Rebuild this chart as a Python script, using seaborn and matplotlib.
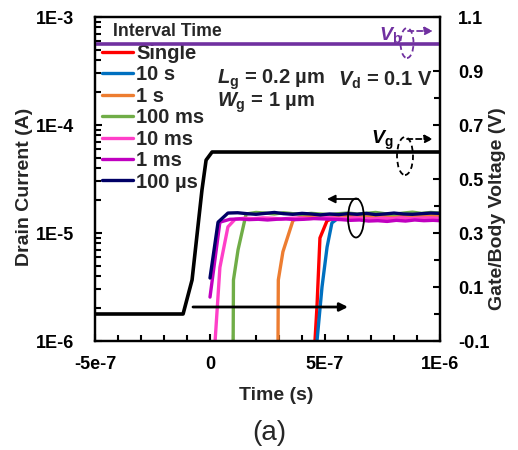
import numpy as np
import pandas as pd
import matplotlib
matplotlib.use("Agg")
import matplotlib.pyplot as plt
import seaborn as sns
from matplotlib.patches import Ellipse
from matplotlib.ticker import FixedLocator, FixedFormatter, MultipleLocator, LogLocator, NullFormatter

# ---------------- data ----------------
series_labels = ["Single", "10 s", "1 s", "100 ms", "10 ms", "1 ms", "100 µs"]
series_colors = ["#FF0000", "#0070C0", "#ED7D31", "#70AD47", "#FF3FC8", "#C000C0", "#000066"]

t_single = [4.48e-7, 4.65e-7, 4.78e-7, 5.09e-7, 5.5e-7, 5.9e-7, 6.3e-7, 6.7e-7, 7.1e-7, 7.5e-7,
            7.9e-7, 8.3e-7, 8.7e-7, 9.1e-7, 9.5e-7, 1.0e-6]
i_single = [5e-7, 2.06e-6, 9.0e-6, 1.30e-5, 1.40e-5, 1.42e-5, 1.40e-5, 1.43e-5, 1.41e-5, 1.38e-5,
            1.40e-5, 1.37e-5, 1.39e-5, 1.36e-5, 1.38e-5, 1.37e-5]

t_10s = [4.52e-7, 4.87e-7, 5.09e-7, 5.30e-7, 5.7e-7, 6.1e-7, 6.5e-7, 6.9e-7, 7.3e-7, 7.7e-7,
         8.1e-7, 8.5e-7, 8.9e-7, 9.3e-7, 9.7e-7, 1.0e-6]
i_10s = [5e-7, 3.16e-6, 7.4e-6, 1.24e-5, 1.44e-5, 1.46e-5, 1.43e-5, 1.45e-5, 1.47e-5, 1.44e-5,
         1.46e-5, 1.43e-5, 1.45e-5, 1.44e-5, 1.46e-5, 1.45e-5]

t_1s = [2.95e-7, 2.97e-7, 3.17e-7, 3.61e-7, 4.0e-7, 4.4e-7, 4.8e-7, 5.2e-7, 5.6e-7, 6.0e-7,
        6.4e-7, 6.8e-7, 7.2e-7, 7.6e-7, 8.0e-7, 8.4e-7, 8.8e-7, 9.2e-7, 9.6e-7, 1.0e-6]
i_1s = [5e-7, 3.67e-6, 6.7e-6, 1.31e-5, 1.42e-5, 1.44e-5, 1.41e-5, 1.43e-5, 1.45e-5, 1.42e-5,
        1.44e-5, 1.41e-5, 1.43e-5, 1.45e-5, 1.42e-5, 1.44e-5, 1.46e-5, 1.43e-5, 1.45e-5, 1.44e-5]

t_100ms = [1.0e-7, 1.02e-7, 1.22e-7, 1.57e-7, 2.0e-7, 2.4e-7, 2.8e-7, 3.2e-7, 3.6e-7, 4.0e-7,
           4.4e-7, 4.8e-7, 5.2e-7, 5.6e-7, 6.0e-7, 6.4e-7, 6.8e-7, 7.2e-7, 7.6e-7, 8.0e-7,
           8.4e-7, 8.8e-7, 9.2e-7, 9.6e-7, 1.0e-6]
i_100ms = [5e-7, 3.67e-6, 7.0e-6, 1.50e-5, 1.55e-5, 1.53e-5, 1.50e-5, 1.54e-5, 1.51e-5, 1.49e-5,
           1.52e-5, 1.50e-5, 1.48e-5, 1.51e-5, 1.53e-5, 1.50e-5, 1.52e-5, 1.55e-5, 1.51e-5, 1.49e-5,
           1.53e-5, 1.56e-5, 1.52e-5, 1.55e-5, 1.53e-5]

t_10ms = [1.3e-8, 4.3e-8, 7.8e-8, 1.09e-7, 1.5e-7, 1.9e-7, 2.3e-7, 2.7e-7, 3.1e-7, 3.5e-7,
          3.9e-7, 4.3e-7, 4.7e-7, 5.1e-7, 5.5e-7, 5.9e-7, 6.3e-7, 6.7e-7, 7.1e-7, 7.5e-7,
          7.9e-7, 8.3e-7, 8.7e-7, 9.1e-7, 9.5e-7, 1.0e-6]
i_10ms = [5e-7, 4.8e-6, 1.14e-5, 1.34e-5, 1.37e-5, 1.36e-5, 1.38e-5, 1.37e-5, 1.35e-5, 1.37e-5,
          1.38e-5, 1.36e-5, 1.37e-5, 1.39e-5, 1.37e-5, 1.36e-5, 1.38e-5, 1.36e-5, 1.35e-5, 1.37e-5,
          1.36e-5, 1.38e-5, 1.36e-5, 1.37e-5, 1.38e-5, 1.37e-5]

t_1ms = [0.0, 4.3e-8, 8.7e-8, 1.3e-7, 1.7e-7, 2.1e-7, 2.5e-7, 2.9e-7, 3.3e-7, 3.7e-7,
         4.1e-7, 4.5e-7, 4.9e-7, 5.3e-7, 5.7e-7, 6.1e-7, 6.5e-7, 6.9e-7, 7.3e-7, 7.7e-7,
         8.1e-7, 8.5e-7, 8.9e-7, 9.3e-7, 9.7e-7, 1.0e-6]
i_1ms = [2.55e-6, 1.26e-5, 1.34e-5, 1.35e-5, 1.33e-5, 1.34e-5, 1.32e-5, 1.34e-5, 1.35e-5, 1.33e-5,
         1.34e-5, 1.36e-5, 1.35e-5, 1.34e-5, 1.33e-5, 1.31e-5, 1.32e-5, 1.29e-5, 1.30e-5, 1.28e-5,
         1.31e-5, 1.29e-5, 1.32e-5, 1.30e-5, 1.31e-5, 1.30e-5]

t_100us = [0.0, 3.5e-8, 7.8e-8, 1.2e-7, 1.6e-7, 2.0e-7, 2.4e-7, 2.8e-7, 3.2e-7, 3.6e-7,
           4.0e-7, 4.4e-7, 4.8e-7, 5.2e-7, 5.6e-7, 6.0e-7, 6.4e-7, 6.8e-7, 7.2e-7, 7.6e-7,
           8.0e-7, 8.4e-7, 8.8e-7, 9.2e-7, 9.6e-7, 1.0e-6]
i_100us = [3.83e-6, 1.26e-5, 1.53e-5, 1.54e-5, 1.51e-5, 1.49e-5, 1.52e-5, 1.55e-5, 1.51e-5, 1.49e-5,
           1.52e-5, 1.50e-5, 1.47e-5, 1.50e-5, 1.48e-5, 1.51e-5, 1.49e-5, 1.52e-5, 1.48e-5, 1.50e-5,
           1.53e-5, 1.50e-5, 1.49e-5, 1.51e-5, 1.53e-5, 1.52e-5]

# gate and body voltages
t_vg = [-5e-7, -1.17e-7, -7.8e-8, -3.5e-8, -1.7e-8, 9e-9, 1.0e-6]
v_vg = [0.0, 0.0, 0.126, 0.459, 0.57, 0.6, 0.6]
t_vb = [-5e-7, 1.0e-6]
v_vb = [1.0, 1.0]

x_ticks = [-5e-7, 0.0, 5e-7, 1e-6]
x_ticklabels = ["-5e-7", "0", "5E-7", "1E-6"]
y_ticks = [1e-6, 1e-5, 1e-4, 1e-3]
y_ticklabels = ["1E-6", "1E-5", "1E-4", "1E-3"]
y2_ticks = [-0.1, 0.1, 0.3, 0.5, 0.7, 0.9, 1.1]
y2_ticklabels = ["-0.1", "0.1", "0.3", "0.5", "0.7", "0.9", "1.1"]

series_t = [t_single, t_10s, t_1s, t_100ms, t_10ms, t_1ms, t_100us]
series_i = [i_single, i_10s, i_1s, i_100ms, i_10ms, i_1ms, i_100us]
df = pd.concat([pd.DataFrame({"t": t, "I": i, "series": lab})
                for t, i, lab in zip(series_t, series_i, series_labels)], ignore_index=True)

# ---------------- style ----------------
sns.set_style("ticks")
plt.rcParams['font.family'] = ['Liberation Sans', 'DejaVu Sans']
plt.rcParams['font.weight'] = 'bold'
plt.rcParams['mathtext.fontset'] = 'custom'
plt.rcParams['mathtext.it'] = 'Liberation Sans:bold:italic'
plt.rcParams['mathtext.rm'] = 'Liberation Sans:bold'
plt.rcParams['mathtext.bf'] = 'Liberation Sans:bold'
plt.rcParams['axes.edgecolor'] = 'black'

W, H = 518, 450
fig = plt.figure(figsize=(W / 100, H / 100), dpi=100)
L, R, T, B = 95, 440, 17, 341
ax = fig.add_axes([L / W, 1 - B / H, (R - L) / W, (B - T) / H])

def fx(px):
    return (px - L) / (R - L)

def fy(py):
    return 1 - (py - T) / (B - T)

sns.lineplot(data=df, x="t", y="I", hue="series", hue_order=series_labels,
             palette=dict(zip(series_labels, series_colors)), estimator=None, sort=False,
             lw=2.4, ax=ax)
ax.set_yscale("log")
ax.set_ylim(1e-6, 1e-3)
ax.set_xlim(-5e-7, 1e-6)

ax.xaxis.set_major_locator(FixedLocator(x_ticks))
ax.xaxis.set_major_formatter(FixedFormatter(x_ticklabels))
ax.xaxis.set_minor_locator(MultipleLocator(1e-7))
ax.yaxis.set_major_locator(FixedLocator(y_ticks))
ax.yaxis.set_major_formatter(FixedFormatter(y_ticklabels))
ax.yaxis.set_minor_locator(LogLocator(base=10, subs=np.arange(2, 10), numticks=20))
ax.yaxis.set_minor_formatter(NullFormatter())
ax.tick_params(axis="both", which="both", direction="in", width=1.5, colors="black",
               labelsize=13, top=False, right=False)
ax.tick_params(axis="x", which="both", pad=10.5)
ax.tick_params(axis="y", which="both", pad=15)
ax.tick_params(axis="both", which="major", length=5)
ax.tick_params(axis="both", which="minor", length=4)
for s in ax.spines.values():
    s.set_linewidth(1.6)
    s.set_color("black")
    s.set_visible(True)

ax.set_xlabel("Time (s)", fontsize=14, fontweight="bold")
ax.xaxis.set_label_coords(fx(276), fy(395))
ax.xaxis.label.set_va("center")
ax.set_ylabel("Drain Current (A)", fontsize=14, fontweight="bold", va="center")
ax.yaxis.set_label_coords(fx(25), fy(187))

# legend
handles, labels = ax.get_legend_handles_labels()
leg = ax.legend(handles, labels, loc="upper left", bbox_to_anchor=(fx(102), fy(44)),
                frameon=False, fontsize=14.5, handlelength=1.55, handletextpad=0.15,
                labelspacing=0.12, borderaxespad=0, borderpad=0)
for h in leg.get_lines():
    h.set_linewidth(2.4)
ax.text(fx(113), fy(31), "Interval Time", transform=ax.transAxes, fontsize=12.7,
        fontweight="bold", ha="left", va="center")

# secondary axis
ax2 = ax.twinx()
sns.lineplot(x=t_vg, y=v_vg, ax=ax2, color="black", lw=2.6, estimator=None, sort=False)
sns.lineplot(x=t_vb, y=v_vb, ax=ax2, color="#7030A0", lw=2.6, estimator=None, sort=False)
ax2.set_ylim(-0.1, 1.1)
ax2.set_xlim(-5e-7, 1e-6)
ax2.yaxis.set_major_locator(FixedLocator(y2_ticks))
ax2.yaxis.set_major_formatter(FixedFormatter(y2_ticklabels))
ax2.yaxis.set_minor_locator(MultipleLocator(0.1))
ax2.tick_params(axis="y", which="both", direction="in", width=1.5, colors="black",
                labelsize=13, pad=13)
ax2.tick_params(axis="y", which="major", length=5)
ax2.tick_params(axis="y", which="minor", length=4)
for s in ax2.spines.values():
    s.set_linewidth(1.6)
    s.set_color("black")
ax2.set_ylabel("Gate/Body Voltage (V)", fontsize=14, fontweight="bold", va="center",
               rotation=90)
ax2.yaxis.set_label_coords(fx(498), fy(209))

# annotations
tr = ax2.transAxes
ax2.text(fx(217), fy(80), r"$L_{\mathrm{g}}$ = 0.2 µm", transform=tr, fontsize=14.5,
         fontweight="bold", ha="left", va="center")
ax2.text(fx(338), fy(80), r"$V_{\mathrm{d}}$ = 0.1 V", transform=tr, fontsize=14.5,
         fontweight="bold", ha="left", va="center")
ax2.text(fx(217), fy(103), r"$W_{\mathrm{g}}$ = 1 µm", transform=tr, fontsize=14.5,
         fontweight="bold", ha="left", va="center")
ax2.text(fx(390), fy(35), r"$V_{\mathrm{b}}$", transform=tr, fontsize=14,
         color="#7030A0", ha="center", va="center")
ax2.text(fx(382), fy(140), r"$V_{\mathrm{g}}$", transform=tr, fontsize=14,
         color="black", ha="center", va="center")

# ellipses (pixel sizes converted to axes fractions)
def ell(cx, cy, w, h, color, ls):
    e = Ellipse((fx(cx), fy(cy)), w / (R - L), h / (B - T), transform=tr, fill=False,
                edgecolor=color, lw=1.3, ls=ls, clip_on=False)
    ax2.add_patch(e)

ell(407, 43, 13, 30, "#7030A0", (0, (3, 2)))
ell(405, 156, 16, 38, "black", (0, (3, 2)))
ell(356, 218, 16, 39, "black", "-")

def arrow(x0, y0, x1, y1, color, ls, lw=1.3):
    ax2.annotate("", xy=(fx(x1), fy(y1)), xytext=(fx(x0), fy(y0)), xycoords=tr, textcoords=tr,
                 arrowprops=dict(arrowstyle="-|>", color=color, lw=lw, ls=ls,
                                 mutation_scale=12, shrinkA=0, shrinkB=0))

arrow(408, 31, 433, 31, "#7030A0", (0, (3, 2)))
arrow(407, 139, 433, 139, "black", (0, (3, 2)))
arrow(358, 199, 327, 199, "black", "-")
arrow(193, 307, 348, 307, "black", "-", lw=2.0)

fig.text(269 / W, 1 - 433 / H, "(a)", fontsize=20, fontweight="normal", ha="center",
         va="center")

fig.savefig("out.png", dpi=100)
